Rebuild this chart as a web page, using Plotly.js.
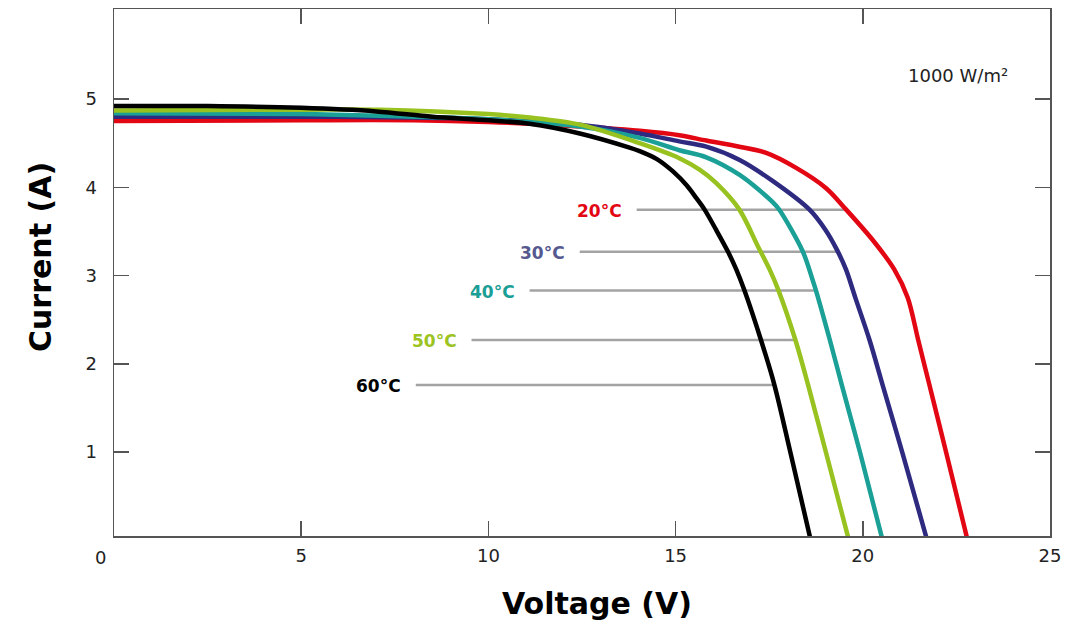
<!DOCTYPE html>
<html>
<head>
<meta charset="utf-8">
<script src="https://cdn.plot.ly/plotly-3.0.1.min.js"></script>
<style>html,body{margin:0;padding:0;background:#fff;}#chart{width:1077px;height:621px;}</style>
</head>
<body>
<div id="chart"></div>
<script>
// Temperature series (I–V curves at 1000 W/m²)
const temps = ['20°C', '30°C', '40°C', '50°C', '60°C'];

const v20 = [0, 5, 8, 10, 12, 14.04, 15.1, 15.82, 16.7, 17.42, 18.22, 19.02, 19.55, 20.27, 20.84, 21.2, 21.48, 21.78, 22.23, 22.8];
const i20 = [4.75, 4.76, 4.76, 4.74, 4.70, 4.64, 4.59, 4.53, 4.46, 4.39, 4.22, 3.99, 3.75, 3.40, 3.07, 2.75, 2.27, 1.76, 0.99, 0];

const v30 = [0, 5, 8, 10, 12.44, 14.04, 15.1, 15.82, 16.71, 17.6, 18.57, 19.0, 19.3, 19.55, 19.8, 20.18, 20.53, 21.06, 21.72];
const i30 = [4.80, 4.80, 4.79, 4.77, 4.71, 4.61, 4.52, 4.46, 4.31, 4.07, 3.75, 3.52, 3.30, 3.07, 2.75, 2.27, 1.76, 0.99, 0];

const v40 = [0, 5, 7.1, 10, 12.44, 14.04, 15.1, 15.82, 16.71, 17.6, 17.77, 18.4, 18.66, 18.75, 19.12, 19.44, 19.93, 20.53];
const i40 = [4.84, 4.83, 4.81, 4.77, 4.69, 4.56, 4.42, 4.34, 4.14, 3.83, 3.745, 3.27, 2.95, 2.83, 2.27, 1.76, 0.99, 0];

const v50 = [0, 5, 7.1, 10, 11.1, 12.44, 14.04, 15.1, 15.64, 16.08, 16.7, 17.2, 17.51, 17.75, 18.2, 18.54, 19.02, 19.63];
const i50 = [4.87, 4.88, 4.88, 4.83, 4.79, 4.71, 4.50, 4.33, 4.20, 4.05, 3.75, 3.33, 3.07, 2.83, 2.27, 1.76, 0.99, 0];

const v60 = [0, 2.5, 5, 7, 8.5, 10, 11.1, 12.44, 13.77, 14.04, 14.5, 14.93, 15.3, 15.55, 15.77, 16.08, 16.4, 16.62, 16.84, 17.28, 17.64, 18.07, 18.61];
const i60 = [4.92, 4.92, 4.90, 4.86, 4.80, 4.76, 4.72, 4.61, 4.45, 4.41, 4.32, 4.18, 4.02, 3.88, 3.75, 3.52, 3.27, 3.07, 2.83, 2.27, 1.76, 0.99, 0];

// Leader lines for the temperature labels
const leaderY     = [3.745, 3.27, 2.83, 2.27, 1.76];
const leaderStart = [13.96, 12.44, 11.10, 9.55, 8.06];
const leaderEnd   = [19.55, 19.37, 18.75, 18.20, 17.64];

const xTicks = [5, 10, 15, 20, 25];
const yTicks = [1, 2, 3, 4, 5];
const irradiance = '1000 W/m²';

const curveColors = ['#e30613', '#2e2a80', '#1aa096', '#98c21f', '#000000'];
const labelColors = ['#e30613', '#55598f', '#1a9e95', '#9cc31f', '#000000'];

const vs = [v20, v30, v40, v50, v60];
const is = [i20, i30, i40, i50, i60];

const traces = [];
leaderY.forEach((y, k) => {
  traces.push({
    x: [leaderStart[k], leaderEnd[k]], y: [y, y],
    mode: 'lines', line: {color: '#a3a3a3', width: 2.5},
    hoverinfo: 'skip', showlegend: false
  });
});
temps.forEach((t, k) => {
  traces.push({
    x: vs[k], y: is[k], name: t,
    mode: 'lines', line: {color: curveColors[k], width: 4.5, shape: 'spline', smoothing: 0.9},
    hoverinfo: 'skip', showlegend: false
  });
});

const font = 'DejaVu Sans, Arial, sans-serif';
const annotations = temps.map((t, k) => ({
  x: leaderStart[k], y: leaderY[k], xref: 'x', yref: 'y',
  text: '<b>' + t + '</b>', showarrow: false,
  xanchor: 'right', yanchor: 'middle', xshift: -13, yshift: -1,
  font: {family: font, size: 17, color: labelColors[k]}
}));
annotations.push({
  x: (1010 - 114) / 936, y: (536 - 75) / 527, xref: 'paper', yref: 'paper',
  text: irradiance, showarrow: false, xanchor: 'right', yanchor: 'middle',
  font: {family: font, size: 18, color: '#222'}
});
annotations.push({
  x: 0, y: 0, xref: 'x', yref: 'paper', text: '0', showarrow: false,
  xanchor: 'center', yanchor: 'top', xshift: -14, yshift: -9,
  font: {family: font, size: 18, color: '#222'}
});
annotations.push({
  x: (597 - 114) / 936, y: (536 - 603) / 527, xref: 'paper', yref: 'paper',
  text: '<b>Voltage (V)</b>', showarrow: false, xanchor: 'center', yanchor: 'middle',
  font: {family: font, size: 30, color: '#000'}
});
annotations.push({
  x: (40 - 114) / 936, y: (536 - 257) / 527, xref: 'paper', yref: 'paper',
  text: '<b>Current (A)</b>', showarrow: false, xanchor: 'center', yanchor: 'middle',
  textangle: -90, font: {family: font, size: 30, color: '#000'}
});

const axisCommon = {
  showgrid: false, zeroline: false, showline: true, mirror: 'ticks',
  linecolor: '#555', linewidth: 1.5, ticks: 'inside', ticklen: 15,
  tickwidth: 1.5, tickcolor: '#555',
  tickfont: {family: font, size: 18, color: '#222'}, fixedrange: true
};

const layout = {
  width: 1077, height: 621,
  margin: {l: 114, r: 27, t: 9, b: 85, pad: 0},
  paper_bgcolor: '#fff', plot_bgcolor: '#fff',
  showlegend: false,
  xaxis: Object.assign({}, axisCommon, {range: [0, 25], tickvals: xTicks, ticklabelstandoff: 3}),
  yaxis: Object.assign({}, axisCommon, {range: [0.05, 6.02], tickvals: yTicks, ticklabelstandoff: 12}),
  annotations: annotations
};

Plotly.newPlot('chart', traces, layout, {displayModeBar: false, staticPlot: true});
</script>
</body>
</html>
